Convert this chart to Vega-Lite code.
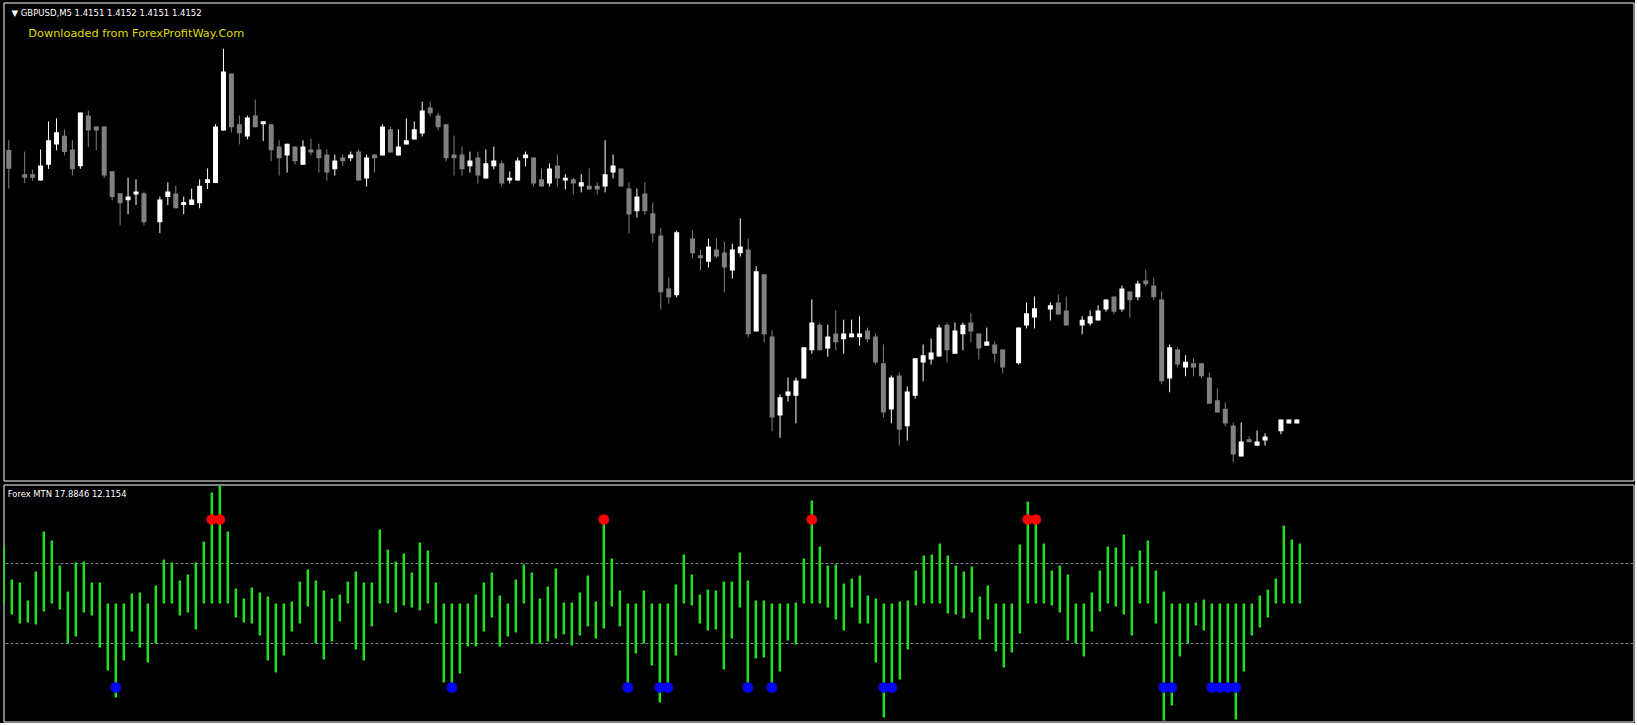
{
"$schema": "https://vega.github.io/schema/vega-lite/v6.json",
"background": "#000000",
"padding": {"left": 2.5, "top": 1.5, "right": 0, "bottom": 0},
"spacing": 2,
"config": {"view": {"stroke": "#ffffff", "strokeWidth": 1}, "axis": {"labels": false, "domain": false, "grid": false, "title": null, "tickColor": "#ffffff", "tickWidth": 1}},
"datasets": {
"levels": [{"level": 4}, {"level": -4}],
"bars": [
{"i":0,"o":1.42156,"h":1.42179,"l":1.42064,"c":1.42111,"top":5.8,"bot":0},
{"i":1,"o":1.42102,"h":1.42102,"l":1.42102,"c":1.42102,"top":2.4,"bot":-1.1},
{"i":2,"o":1.42098,"h":1.42152,"l":1.42077,"c":1.42090,"top":2.1,"bot":-2.0},
{"i":3,"o":1.42098,"h":1.42109,"l":1.42083,"c":1.42090,"top":0.3,"bot":-1.9},
{"i":4,"o":1.42083,"h":1.42157,"l":1.42083,"c":1.42119,"top":3.2,"bot":-2.1},
{"i":5,"o":1.42121,"h":1.42224,"l":1.42111,"c":1.42179,"top":7.2,"bot":-0.8},
{"i":6,"o":1.42169,"h":1.42231,"l":1.42155,"c":1.42198,"top":6.3,"bot":0},
{"i":7,"o":1.42190,"h":1.42205,"l":1.42143,"c":1.42151,"top":3.8,"bot":-0.6},
{"i":8,"o":1.42157,"h":1.42179,"l":1.42095,"c":1.42110,"top":1.2,"bot":-4.0},
{"i":9,"o":1.42117,"h":1.42245,"l":1.42111,"c":1.42245,"top":4.1,"bot":-3.3},
{"i":10,"o":1.42238,"h":1.42250,"l":1.42163,"c":1.42202,"top":4.2,"bot":-0.9},
{"i":11,"o":1.42212,"h":1.42212,"l":1.42155,"c":1.42202,"top":2.1,"bot":-1.2},
{"i":12,"o":1.42212,"h":1.42212,"l":1.42089,"c":1.42095,"top":2.1,"bot":-4.4},
{"i":13,"o":1.42105,"h":1.42105,"l":1.42036,"c":1.42044,"top":0,"bot":-6.7},
{"i":14,"o":1.42053,"h":1.42053,"l":1.41976,"c":1.42029,"top":0,"bot":-9.4,"sig":-8.4},
{"i":15,"o":1.42036,"h":1.42090,"l":1.42003,"c":1.42045,"top":0,"bot":-5.7},
{"i":16,"o":1.42050,"h":1.42086,"l":1.42025,"c":1.42057,"top":1.0,"bot":-2.8},
{"i":17,"o":1.42053,"h":1.42057,"l":1.41976,"c":1.41984,"top":1.1,"bot":-4.4},
{"i":18,"o":1.41983,"h":1.41983,"l":1.41983,"c":1.41983,"top":0,"bot":-5.9},
{"i":19,"o":1.41984,"h":1.42045,"l":1.41958,"c":1.42038,"top":1.8,"bot":-4.0},
{"i":20,"o":1.42044,"h":1.42079,"l":1.42025,"c":1.42057,"top":4.4,"bot":0},
{"i":21,"o":1.42052,"h":1.42071,"l":1.42017,"c":1.42017,"top":4.1,"bot":0},
{"i":22,"o":1.42025,"h":1.42045,"l":1.42003,"c":1.42032,"top":2.3,"bot":-1.2},
{"i":23,"o":1.42025,"h":1.42064,"l":1.42025,"c":1.42038,"top":2.9,"bot":-0.9},
{"i":24,"o":1.42029,"h":1.42086,"l":1.42017,"c":1.42071,"top":4.1,"bot":-2.6},
{"i":25,"o":1.42077,"h":1.42112,"l":1.42063,"c":1.42086,"top":6.2,"bot":0},
{"i":26,"o":1.42077,"h":1.42217,"l":1.42077,"c":1.42212,"top":11.1,"bot":0,"sig":8.4},
{"i":27,"o":1.42202,"h":1.42397,"l":1.42202,"c":1.42343,"top":11.8,"bot":0,"sig":8.4},
{"i":28,"o":1.42338,"h":1.42338,"l":1.42198,"c":1.42210,"top":7.2,"bot":0},
{"i":29,"o":1.42217,"h":1.42238,"l":1.42169,"c":1.42196,"top":1.5,"bot":-1.4},
{"i":30,"o":1.42188,"h":1.42238,"l":1.42181,"c":1.42233,"top":0.5,"bot":-1.9},
{"i":31,"o":1.42238,"h":1.42276,"l":1.42210,"c":1.42210,"top":1.6,"bot":-2.0},
{"i":32,"o":1.42217,"h":1.42224,"l":1.42177,"c":1.42224,"top":1.1,"bot":-3.2},
{"i":33,"o":1.42217,"h":1.42217,"l":1.42129,"c":1.42155,"top":0.7,"bot":-5.7},
{"i":34,"o":1.42164,"h":1.42179,"l":1.42095,"c":1.42136,"top":0,"bot":-6.9},
{"i":35,"o":1.42143,"h":1.42171,"l":1.42102,"c":1.42171,"top":0,"bot":-5.2},
{"i":36,"o":1.42164,"h":1.42164,"l":1.42121,"c":1.42129,"top":0.2,"bot":-2.8},
{"i":37,"o":1.42121,"h":1.42179,"l":1.42121,"c":1.42164,"top":2.2,"bot":-2.0},
{"i":38,"o":1.42157,"h":1.42183,"l":1.42143,"c":1.42150,"top":3.4,"bot":-0.3},
{"i":39,"o":1.42157,"h":1.42171,"l":1.42102,"c":1.42136,"top":2.3,"bot":-4.0},
{"i":40,"o":1.42145,"h":1.42157,"l":1.42083,"c":1.42102,"top":1.3,"bot":-5.6},
{"i":41,"o":1.42110,"h":1.42145,"l":1.42095,"c":1.42131,"top":0.5,"bot":-3.8},
{"i":42,"o":1.42138,"h":1.42145,"l":1.42117,"c":1.42129,"top":0.9,"bot":-1.8},
{"i":43,"o":1.42136,"h":1.42152,"l":1.42129,"c":1.42145,"top":2.2,"bot":0},
{"i":44,"o":1.42152,"h":1.42157,"l":1.42083,"c":1.42083,"top":3.2,"bot":-4.6},
{"i":45,"o":1.42088,"h":1.42145,"l":1.42069,"c":1.42138,"top":2.1,"bot":-5.7},
{"i":46,"o":1.42145,"h":1.42145,"l":1.42102,"c":1.42136,"top":2.1,"bot":-2.3},
{"i":47,"o":1.42143,"h":1.42217,"l":1.42143,"c":1.42212,"top":7.4,"bot":0},
{"i":48,"o":1.42205,"h":1.42212,"l":1.42150,"c":1.42150,"top":5.4,"bot":0},
{"i":49,"o":1.42143,"h":1.42205,"l":1.42143,"c":1.42164,"top":4.2,"bot":-0.9},
{"i":50,"o":1.42169,"h":1.42231,"l":1.42169,"c":1.42179,"top":5.0,"bot":-0.2},
{"i":51,"o":1.42181,"h":1.42224,"l":1.42181,"c":1.42205,"top":3.1,"bot":-0.4},
{"i":52,"o":1.42195,"h":1.42271,"l":1.42188,"c":1.42250,"top":6.1,"bot":-0.7},
{"i":53,"o":1.42257,"h":1.42271,"l":1.42236,"c":1.42243,"top":5.3,"bot":0},
{"i":54,"o":1.42238,"h":1.42245,"l":1.42202,"c":1.42210,"top":2.1,"bot":-2.0},
{"i":55,"o":1.42217,"h":1.42217,"l":1.42129,"c":1.42136,"top":0,"bot":-7.9},
{"i":56,"o":1.42145,"h":1.42190,"l":1.42095,"c":1.42136,"top":0,"bot":-8.4,"sig":-8.4},
{"i":57,"o":1.42145,"h":1.42164,"l":1.42095,"c":1.42110,"top":0,"bot":-7.0},
{"i":58,"o":1.42117,"h":1.42152,"l":1.42102,"c":1.42131,"top":0,"bot":-4.3},
{"i":59,"o":1.42138,"h":1.42152,"l":1.42076,"c":1.42095,"top":0.9,"bot":-4.3},
{"i":60,"o":1.42088,"h":1.42157,"l":1.42088,"c":1.42124,"top":2.1,"bot":-2.8},
{"i":61,"o":1.42117,"h":1.42164,"l":1.42110,"c":1.42131,"top":3.1,"bot":-1.4},
{"i":62,"o":1.42124,"h":1.42131,"l":1.42069,"c":1.42076,"top":0.8,"bot":-4.3},
{"i":63,"o":1.42083,"h":1.42105,"l":1.42076,"c":1.42090,"top":0,"bot":-3.3},
{"i":64,"o":1.42083,"h":1.42138,"l":1.42083,"c":1.42131,"top":2.4,"bot":-2.9},
{"i":65,"o":1.42136,"h":1.42152,"l":1.42117,"c":1.42145,"top":3.9,"bot":0},
{"i":66,"o":1.42138,"h":1.42138,"l":1.42069,"c":1.42076,"top":3.1,"bot":-4.0},
{"i":67,"o":1.42086,"h":1.42112,"l":1.42069,"c":1.42069,"top":0.5,"bot":-4.0},
{"i":68,"o":1.42076,"h":1.42124,"l":1.42069,"c":1.42112,"top":1.7,"bot":-3.8},
{"i":69,"o":1.42119,"h":1.42145,"l":1.42069,"c":1.42088,"top":3.5,"bot":-3.5},
{"i":70,"o":1.42083,"h":1.42098,"l":1.42062,"c":1.42090,"top":0.1,"bot":-3.1},
{"i":71,"o":1.42086,"h":1.42090,"l":1.42050,"c":1.42076,"top":0.1,"bot":-4.2},
{"i":72,"o":1.42069,"h":1.42098,"l":1.42055,"c":1.42079,"top":1.1,"bot":-3.2},
{"i":73,"o":1.42071,"h":1.42112,"l":1.42062,"c":1.42062,"top":2.8,"bot":-2.3},
{"i":74,"o":1.42071,"h":1.42079,"l":1.42050,"c":1.42062,"top":0.2,"bot":-3.5},
{"i":75,"o":1.42069,"h":1.42179,"l":1.42055,"c":1.42098,"top":8.6,"bot":-2.5,"sig":8.4},
{"i":76,"o":1.42102,"h":1.42145,"l":1.42088,"c":1.42119,"top":4.5,"bot":-0.3},
{"i":77,"o":1.42112,"h":1.42112,"l":1.42069,"c":1.42069,"top":1.3,"bot":-2.3},
{"i":78,"o":1.42064,"h":1.42079,"l":1.41957,"c":1.42002,"top":0,"bot":-8.4,"sig":-8.4},
{"i":79,"o":1.42010,"h":1.42064,"l":1.41995,"c":1.42045,"top":0,"bot":-5.0},
{"i":80,"o":1.42052,"h":1.42079,"l":1.42002,"c":1.42010,"top":1.3,"bot":-4.0},
{"i":81,"o":1.42005,"h":1.42031,"l":1.41936,"c":1.41957,"top":0,"bot":-6.2},
{"i":82,"o":1.41952,"h":1.41971,"l":1.41776,"c":1.41817,"top":0,"bot":-9.9,"sig":-8.4},
{"i":83,"o":1.41826,"h":1.41852,"l":1.41790,"c":1.41805,"top":0,"bot":-8.5,"sig":-8.4},
{"i":84,"o":1.41810,"h":1.41964,"l":1.41805,"c":1.41960,"top":1.9,"bot":-5.2},
{"i":85,"o":1.41955,"h":1.41955,"l":1.41955,"c":1.41955,"top":4.9,"bot":0},
{"i":86,"o":1.41945,"h":1.41964,"l":1.41898,"c":1.41910,"top":2.9,"bot":-0.2},
{"i":87,"o":1.41905,"h":1.41919,"l":1.41869,"c":1.41898,"top":0.9,"bot":-2.0},
{"i":88,"o":1.41890,"h":1.41945,"l":1.41876,"c":1.41926,"top":1.4,"bot":-2.7},
{"i":89,"o":1.41919,"h":1.41945,"l":1.41898,"c":1.41902,"top":1.3,"bot":-2.6},
{"i":90,"o":1.41912,"h":1.41938,"l":1.41817,"c":1.41876,"top":2.2,"bot":-6.6},
{"i":91,"o":1.41869,"h":1.41933,"l":1.41850,"c":1.41919,"top":2.2,"bot":-3.5},
{"i":92,"o":1.41910,"h":1.41993,"l":1.41902,"c":1.41926,"top":5.1,"bot":-0.4},
{"i":93,"o":1.41919,"h":1.41945,"l":1.41710,"c":1.41717,"top":2.3,"bot":-8.5,"sig":-8.4},
{"i":94,"o":1.41724,"h":1.41879,"l":1.41724,"c":1.41867,"top":0.3,"bot":-5.5},
{"i":95,"o":1.41860,"h":1.41860,"l":1.41698,"c":1.41717,"top":0.3,"bot":-5.4},
{"i":96,"o":1.41712,"h":1.41726,"l":1.41486,"c":1.41519,"top":0,"bot":-8.5,"sig":-8.4},
{"i":97,"o":1.41524,"h":1.41574,"l":1.41471,"c":1.41567,"top":0,"bot":-6.8},
{"i":98,"o":1.41571,"h":1.41614,"l":1.41557,"c":1.41581,"top":0,"bot":-3.7},
{"i":99,"o":1.41571,"h":1.41614,"l":1.41505,"c":1.41607,"top":0.1,"bot":-4.1},
{"i":100,"o":1.41612,"h":1.41686,"l":1.41612,"c":1.41686,"top":4.5,"bot":0},
{"i":101,"o":1.41679,"h":1.41800,"l":1.41671,"c":1.41745,"top":10.3,"bot":0,"sig":8.4},
{"i":102,"o":1.41740,"h":1.41745,"l":1.41679,"c":1.41679,"top":5.7,"bot":0},
{"i":103,"o":1.41683,"h":1.41740,"l":1.41664,"c":1.41712,"top":3.8,"bot":-0.4},
{"i":104,"o":1.41719,"h":1.41774,"l":1.41679,"c":1.41698,"top":3.9,"bot":-1.6},
{"i":105,"o":1.41705,"h":1.41752,"l":1.41671,"c":1.41719,"top":2.0,"bot":-2.7},
{"i":106,"o":1.41710,"h":1.41752,"l":1.41710,"c":1.41719,"top":2.5,"bot":-0.4},
{"i":107,"o":1.41710,"h":1.41760,"l":1.41690,"c":1.41719,"top":2.8,"bot":-2.0},
{"i":108,"o":1.41726,"h":1.41733,"l":1.41698,"c":1.41705,"top":0.8,"bot":-2.0},
{"i":109,"o":1.41712,"h":1.41719,"l":1.41645,"c":1.41650,"top":0.5,"bot":-5.9},
{"i":110,"o":1.41648,"h":1.41693,"l":1.41519,"c":1.41531,"top":0,"bot":-11.4,"sig":-8.4},
{"i":111,"o":1.41538,"h":1.41619,"l":1.41505,"c":1.41614,"top":0,"bot":-8.5,"sig":-8.4},
{"i":112,"o":1.41619,"h":1.41626,"l":1.41452,"c":1.41490,"top":0.2,"bot":-7.6},
{"i":113,"o":1.41498,"h":1.41593,"l":1.41464,"c":1.41581,"top":0.3,"bot":-4.6},
{"i":114,"o":1.41571,"h":1.41660,"l":1.41564,"c":1.41660,"top":3.3,"bot":-0.2},
{"i":115,"o":1.41650,"h":1.41693,"l":1.41605,"c":1.41667,"top":4.8,"bot":0},
{"i":116,"o":1.41657,"h":1.41707,"l":1.41645,"c":1.41674,"top":4.9,"bot":0},
{"i":117,"o":1.41664,"h":1.41740,"l":1.41664,"c":1.41733,"top":6.0,"bot":0},
{"i":118,"o":1.41740,"h":1.41745,"l":1.41650,"c":1.41679,"top":4.8,"bot":-1.0},
{"i":119,"o":1.41671,"h":1.41745,"l":1.41671,"c":1.41726,"top":3.8,"bot":-1.1},
{"i":120,"o":1.41717,"h":1.41745,"l":1.41679,"c":1.41740,"top":3.2,"bot":-1.5},
{"i":121,"o":1.41745,"h":1.41767,"l":1.41698,"c":1.41724,"top":3.7,"bot":-0.9},
{"i":122,"o":1.41719,"h":1.41719,"l":1.41657,"c":1.41683,"top":0.7,"bot":-3.6},
{"i":123,"o":1.41690,"h":1.41733,"l":1.41690,"c":1.41700,"top":1.8,"bot":-1.6},
{"i":124,"o":1.41693,"h":1.41700,"l":1.41650,"c":1.41671,"top":0,"bot":-4.8},
{"i":125,"o":1.41681,"h":1.41681,"l":1.41624,"c":1.41638,"top":0,"bot":-6.4},
{"i":126,"o":1.41640,"h":1.41640,"l":1.41640,"c":1.41640,"top":0,"bot":-4.9},
{"i":127,"o":1.41648,"h":1.41733,"l":1.41645,"c":1.41733,"top":5.9,"bot":-3.0},
{"i":128,"o":1.41738,"h":1.41793,"l":1.41731,"c":1.41767,"top":10.2,"bot":0,"sig":8.4},
{"i":129,"o":1.41757,"h":1.41807,"l":1.41731,"c":1.41779,"top":8.6,"bot":0,"sig":8.4},
{"i":130,"o":1.41783,"h":1.41783,"l":1.41783,"c":1.41783,"top":6.0,"bot":0},
{"i":131,"o":1.41776,"h":1.41793,"l":1.41750,"c":1.41786,"top":3.3,"bot":-0.2},
{"i":132,"o":1.41793,"h":1.41812,"l":1.41764,"c":1.41764,"top":3.8,"bot":-0.9},
{"i":133,"o":1.41774,"h":1.41807,"l":1.41738,"c":1.41738,"top":2.9,"bot":-3.7},
{"i":134,"o":1.41738,"h":1.41738,"l":1.41738,"c":1.41738,"top":0,"bot":-4.0},
{"i":135,"o":1.41738,"h":1.41760,"l":1.41717,"c":1.41752,"top":0,"bot":-5.3},
{"i":136,"o":1.41743,"h":1.41774,"l":1.41738,"c":1.41760,"top":1.1,"bot":-2.8},
{"i":137,"o":1.41750,"h":1.41786,"l":1.41750,"c":1.41774,"top":3.3,"bot":-0.8},
{"i":138,"o":1.41776,"h":1.41800,"l":1.41771,"c":1.41800,"top":5.7,"bot":0},
{"i":139,"o":1.41807,"h":1.41807,"l":1.41764,"c":1.41771,"top":5.6,"bot":-0.3},
{"i":140,"o":1.41776,"h":1.41833,"l":1.41771,"c":1.41826,"top":6.9,"bot":-1.1},
{"i":141,"o":1.41819,"h":1.41819,"l":1.41757,"c":1.41798,"top":3.7,"bot":-3.2},
{"i":142,"o":1.41805,"h":1.41845,"l":1.41798,"c":1.41838,"top":5.3,"bot":0},
{"i":143,"o":1.41845,"h":1.41871,"l":1.41831,"c":1.41836,"top":6.3,"bot":0},
{"i":144,"o":1.41833,"h":1.41852,"l":1.41798,"c":1.41805,"top":3.3,"bot":-2.0},
{"i":145,"o":1.41800,"h":1.41819,"l":1.41598,"c":1.41605,"top":1.2,"bot":-11.7,"sig":-8.4},
{"i":146,"o":1.41612,"h":1.41693,"l":1.41579,"c":1.41686,"top":0,"bot":-10.2,"sig":-8.4},
{"i":147,"o":1.41681,"h":1.41686,"l":1.41638,"c":1.41645,"top":0,"bot":-5.3},
{"i":148,"o":1.41638,"h":1.41667,"l":1.41617,"c":1.41652,"top":0,"bot":-4.0},
{"i":149,"o":1.41648,"h":1.41660,"l":1.41617,"c":1.41638,"top":0.1,"bot":-2.2},
{"i":150,"o":1.41648,"h":1.41648,"l":1.41612,"c":1.41617,"top":0.4,"bot":-2.7},
{"i":151,"o":1.41614,"h":1.41626,"l":1.41552,"c":1.41552,"top":0,"bot":-8.5,"sig":-8.4},
{"i":152,"o":1.41560,"h":1.41588,"l":1.41531,"c":1.41531,"top":0,"bot":-8.5,"sig":-8.4},
{"i":153,"o":1.41540,"h":1.41555,"l":1.41498,"c":1.41505,"top":0,"bot":-8.5,"sig":-8.4},
{"i":154,"o":1.41500,"h":1.41507,"l":1.41412,"c":1.41431,"top":0,"bot":-11.6,"sig":-8.4},
{"i":155,"o":1.41426,"h":1.41507,"l":1.41426,"c":1.41462,"top":0,"bot":-6.8},
{"i":156,"o":1.41467,"h":1.41474,"l":1.41460,"c":1.41460,"top":0,"bot":-3.2},
{"i":157,"o":1.41452,"h":1.41488,"l":1.41452,"c":1.41462,"top":0.8,"bot":-2.4},
{"i":158,"o":1.41464,"h":1.41481,"l":1.41452,"c":1.41474,"top":1.4,"bot":-1.4},
{"i":159,"o":1.41474,"h":1.41474,"l":1.41474,"c":1.41474,"top":2.5,"bot":0},
{"i":160,"o":1.41486,"h":1.41514,"l":1.41479,"c":1.41514,"top":7.8,"bot":0},
{"i":161,"o":1.41505,"h":1.41514,"l":1.41505,"c":1.41514,"top":6.4,"bot":0},
{"i":162,"o":1.41505,"h":1.41514,"l":1.41505,"c":1.41514,"top":6.0,"bot":0}
]},
"vconcat": [
{
"width": 1630, "height": 478,
"layer": [
{"data": {"name": "bars"},
 "mark": {"type": "rule", "strokeWidth": 1, "clip": true},
 "encoding": {
  "x": {"field": "i", "type": "quantitative", "scale": {"domain": [-0.0375, 203.7125], "nice": false, "zero": false}, "axis": null},
  "y": {"field": "l", "type": "quantitative", "scale": {"domain": [1.41369, 1.42507], "nice": false, "zero": false}, "axis": {"orient": "right", "values": [1.414, 1.415, 1.416, 1.417, 1.418, 1.419, 1.42, 1.421, 1.422, 1.423, 1.424, 1.425], "tickSize": 4}},
  "y2": {"field": "h"},
  "color": {"condition": {"test": "datum.c > datum.o", "value": "#ffffff"}, "value": "#808080"}
 }},
{"data": {"name": "bars"},
 "mark": {"type": "bar", "width": 5, "orient": "vertical", "clip": true},
 "encoding": {
  "x": {"field": "i", "type": "quantitative", "scale": {"domain": [-0.0375, 203.7125], "nice": false, "zero": false}, "axis": null},
  "y": {"field": "o", "type": "quantitative", "scale": {"domain": [1.41369, 1.42507], "nice": false, "zero": false}, "axis": null},
  "y2": {"field": "c"},
  "color": {"condition": {"test": "datum.c > datum.o", "value": "#ffffff"}, "value": "#808080"}
 }},
{"data": {"values": [{"label": "▼ GBPUSD,M5  1.4151 1.4152 1.4151 1.4152"}]},
 "mark": {"type": "text", "align": "left", "baseline": "middle", "font": "DejaVu Sans", "fontSize": 8.5, "color": "#ffffff"},
 "encoding": {
  "x": {"datum": 0.34, "type": "quantitative", "scale": {"domain": [-0.0375, 203.7125], "nice": false, "zero": false}, "axis": null},
  "y": {"datum": 1.42481, "type": "quantitative", "scale": {"domain": [1.41369, 1.42507], "nice": false, "zero": false}, "axis": null},
  "text": {"field": "label"}
 }},
{"data": {"values": [{"label": "Downloaded from ForexProfitWay.Com"}]},
 "mark": {"type": "text", "align": "left", "baseline": "middle", "font": "DejaVu Sans", "fontSize": 11.3, "color": "#dcdc10"},
 "encoding": {
  "x": {"datum": 2.46, "type": "quantitative", "scale": {"domain": [-0.0375, 203.7125], "nice": false, "zero": false}, "axis": null},
  "y": {"datum": 1.42432, "type": "quantitative", "scale": {"domain": [1.41369, 1.42507], "nice": false, "zero": false}, "axis": null},
  "text": {"field": "label"}
 }}
]
},
{
"width": 1630, "height": 237,
"layer": [
{"data": {"name": "levels"},
 "mark": {"type": "rule", "strokeDash": [3, 2], "strokeWidth": 1, "color": "#778899"},
 "encoding": {
  "y": {"field": "level", "type": "quantitative", "scale": {"domain": [-11.8, 11.9], "nice": false, "zero": false}, "axis": null}
 }},
{"data": {"name": "bars"},
 "mark": {"type": "rule", "strokeWidth": 2.5, "color": "#1fe01f", "clip": true},
 "encoding": {
  "x": {"field": "i", "type": "quantitative", "scale": {"domain": [-0.0375, 203.7125], "nice": false, "zero": false}, "axis": {"orient": "bottom", "values": [8,16,24,32,40,48,56,64,72,80,88,96,104,112,120,128,136,144,152,160,168,176,184,192,200], "tickSize": 3}},
  "y": {"field": "bot", "type": "quantitative", "scale": {"domain": [-11.8, 11.9], "nice": false, "zero": false}, "axis": {"orient": "right", "values": [0, -4], "tickSize": 4}},
  "y2": {"field": "top"}
 }},
{"data": {"name": "bars"},
 "mark": {"type": "point", "filled": true, "size": 115, "opacity": 1, "clip": true},
 "encoding": {
  "x": {"field": "i", "type": "quantitative", "scale": {"domain": [-0.0375, 203.7125], "nice": false, "zero": false}, "axis": null},
  "y": {"field": "sig", "type": "quantitative", "scale": {"domain": [-11.8, 11.9], "nice": false, "zero": false}, "axis": null},
  "color": {"condition": {"test": "datum.sig > 0", "value": "#ff0000"}, "value": "#0000ff"}
 }},
{"data": {"values": [{"label": "Forex MTN 17.8846 12.1154"}]},
 "mark": {"type": "text", "align": "left", "baseline": "middle", "font": "DejaVu Sans", "fontSize": 8.4, "color": "#ffffff"},
 "encoding": {
  "x": {"datum": 0.5, "type": "quantitative", "scale": {"domain": [-0.0375, 203.7125], "nice": false, "zero": false}, "axis": null},
  "y": {"datum": 10.93, "type": "quantitative", "scale": {"domain": [-11.8, 11.9], "nice": false, "zero": false}, "axis": null},
  "text": {"field": "label"}
 }}
]
}
]
}
